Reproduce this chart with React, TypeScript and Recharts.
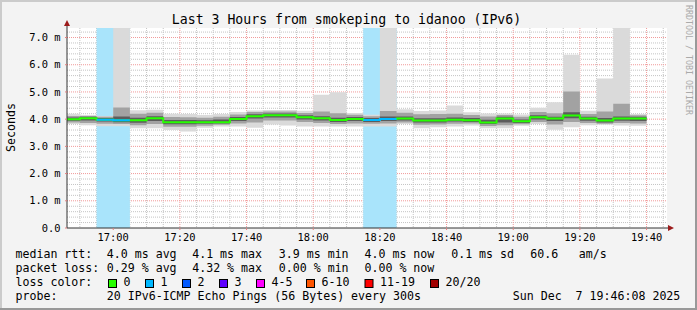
import React from 'react';
import { ComposedChart, Area, Line, XAxis, YAxis, CartesianGrid } from 'recharts';

// 5 minute bins, minutes after 16:00 (bin start)
const binStart = [
  45, 50, 55, 60, 65, 70, 75, 80, 85, 90, 95, 100, 105, 110, 115, 120, 125, 130,
  135, 140, 145, 150, 155, 160, 165, 170, 175, 180, 185, 190, 195, 200, 205, 210, 215,
];
const binEnd = 220;

// rtt in ms
const pingMin = [
  3.82, 3.78, 3.74, 3.74, 3.67, 3.67, 3.6, 3.55, 3.68, 3.73, 3.73, 3.68, 3.8, 3.77, 3.73, 3.73, 3.73, 3.73,
  3.73, 3.73, 3.82, 3.67, 3.7, 3.73, 3.77, 3.67, 3.67, 3.76, 3.82, 3.61, 3.7, 3.78, 3.79, 3.77, 3.76,
];
const pingLow = [
  3.88, 3.86, 3.83, 3.82, 3.78, 3.82, 3.72, 3.72, 3.76, 3.79, 3.84, 3.88, 3.95, 3.95, 3.9, 3.86, 3.82, 3.84,
  3.83, 3.84, 3.88, 3.79, 3.8, 3.83, 3.84, 3.75, 3.78, 3.81, 3.9, 3.8, 3.9, 3.86, 3.83, 3.86, 3.84,
];
const pingInLow = [
  3.94, 3.95, 3.91, 3.89, 3.87, 3.93, 3.81, 3.81, 3.83, 3.84, 3.93, 4.02, 4.06, 4.06, 3.99, 3.95, 3.9, 3.93,
  3.9, 3.93, 3.95, 3.88, 3.88, 3.91, 3.9, 3.82, 3.88, 3.86, 3.99, 3.93, 4.03, 3.94, 3.88, 3.94, 3.93,
];
const median = [
  4.0, 4.03, 3.98, 3.96, 3.96, 4.03, 3.89, 3.89, 3.89, 3.89, 4.01, 4.11, 4.14, 4.14, 4.07, 4.03, 3.97, 4.01,
  3.97, 4.01, 4.02, 3.95, 3.95, 3.98, 3.96, 3.88, 4.02, 3.92, 4.07, 4.02, 4.13, 4.02, 3.95, 4.02, 4.02,
];
const pingInHigh = [
  4.06, 4.09, 4.04, 4.1, 4.05, 4.11, 3.97, 3.97, 3.96, 3.99, 4.08, 4.18, 4.21, 4.21, 4.14, 4.11, 4.05, 4.08,
  4.04, 4.1, 4.1, 4.03, 4.03, 4.06, 4.04, 3.98, 4.09, 3.99, 4.14, 4.09, 4.25, 4.09, 4.04, 4.1, 4.09,
];
const pingHigh = [
  4.12, 4.12, 4.09, 4.43, 4.2, 4.24, 4.08, 4.07, 4.05, 4.09, 4.17, 4.26, 4.28, 4.28, 4.23, 4.28, 4.22, 4.16,
  4.11, 4.3, 4.24, 4.18, 4.19, 4.2, 4.15, 4.1, 4.15, 4.09, 4.26, 4.22, 5.02, 4.19, 4.28, 4.57, 4.14,
];
const pingMax = [
  4.2, 4.15, 4.12, 9.0, 4.33, 4.35, 4.2, 4.19, 4.15, 4.19, 4.26, 4.32, 4.34, 4.34, 4.31, 4.9, 4.99, 4.23,
  4.16, 9.0, 4.36, 4.3, 4.32, 4.5, 4.25, 4.21, 4.21, 4.17, 4.42, 4.62, 6.37, 4.31, 5.49, 9.0, 4.19,
];
const lossPings = [
  0, 0, 1, 1, 0, 0, 0, 0, 0, 0, 0, 0, 0, 0, 0, 0, 0, 0,
  1, 1, 0, 0, 0, 0, 0, 0, 0, 0, 0, 0, 0, 0, 0, 0, 0,
];

const timeTicks = [60, 80, 100, 120, 140, 160, 180, 200, 220];
const rttTicks = [0, 1, 2, 3, 4, 5, 6, 7];

const lossLabels = ['0', '1', '2', '3', '4-5', '6-10', '11-19', '20/20'];
const lossColors = ['#26ff00', '#00b8ff', '#0059ff', '#5e00ff', '#ff00ff', '#ff5500', '#ff0000', '#a10000'];
const lossBoxX = [108.5, 145.5, 182.5, 219.5, 256.5, 306.5, 365, 430.5];

const graphStart = 46 + 8 / 60;
const graphEnd = graphStart + 180;

const minorTime: number[] = [];
for (let m = 50; m <= 225; m += 5) if (m % 20 !== 0) minorTime.push(m);
const minorRtt: number[] = [];
for (let k = 1; k <= 36; k++) if (k % 5 !== 0) minorRtt.push(k / 5);
const majorRtt = [1, 2, 3, 4, 5, 6, 7];

const rows = binStart.map((t, i) => ({
  t,
  outer: [pingMin[i], pingMax[i]],
  mid: [pingLow[i], pingHigh[i]],
  inner: [pingInLow[i], pingInHigh[i]],
  median: median[i],
  lossMedian: lossPings[i] > 0 ? median[i] : i > 0 && lossPings[i - 1] > 0 ? median[i - 1] : null,
  loss: lossPings[i] > 0 ? 1 : 0,
}));
const last = rows[rows.length - 1];
const data = [...rows, { ...last, t: binEnd, lossMedian: last.loss ? last.median : null }];

const mono = "'DejaVu Sans Mono', monospace";

const fmtTime = (m: number) => `${16 + Math.floor(m / 60)}:${String(m % 60).padStart(2, '0')}`;
const fmtRtt = (v: number) => (v === 0 ? '0.0' : `${v.toFixed(1)} m`);

const T = (p: { x: number; y: number; children: React.ReactNode; size?: number }) => (
  <text x={p.x} y={p.y} fontFamily={mono} fontSize={p.size ?? 11.6} fill="#000" style={{ whiteSpace: 'pre' }}>
    {p.children}
  </text>
);

export default function App() {
  return (
    <div style={{ position: 'absolute', left: 0, top: 0, width: 697, height: 310, background: '#f3f3f3' }}>
      <ComposedChart width={697} height={310} data={data} margin={{ top: 28, right: 30, bottom: 52, left: 0 }}>
        <CartesianGrid
          fill="#ffffff"
          stroke="#c4c4c4"
          strokeDasharray="1 1"
          horizontalValues={minorRtt}
          verticalValues={minorTime}
        />
        <CartesianGrid
          stroke="#f19a9a"
          strokeDasharray="1 1"
          horizontalValues={majorRtt}
          verticalValues={timeTicks}
        />
        <XAxis
          dataKey="t"
          type="number"
          domain={[graphStart, graphEnd]}
          allowDataOverflow
          ticks={timeTicks}
          interval={0}
          tickFormatter={fmtTime}
          height={30}
          tickSize={2}
          tickMargin={3.6}
          axisLine={{ stroke: '#333' }}
          tickLine={{ stroke: '#e08080' }}
          tick={{ fill: '#000', fontSize: 10.4, fontFamily: mono }}
        />
        <YAxis
          width={67}
          type="number"
          domain={[0, 7.35]}
          allowDataOverflow
          ticks={rttTicks}
          interval={0}
          tickFormatter={fmtRtt}
          tickSize={2}
          tickMargin={4.5}
          axisLine={{ stroke: '#333' }}
          tickLine={{ stroke: '#e08080' }}
          tick={{ fill: '#000', fontSize: 10.4, fontFamily: mono }}
        />
        <YAxis yAxisId="loss" hide domain={[0, 1]} />
        <Area
          yAxisId="loss"
          dataKey="loss"
          type="stepAfter"
          fill="#a9e4fb"
          fillOpacity={1}
          stroke="none"
          isAnimationActive={false}
        />
        <Area dataKey="outer" type="stepAfter" fill="#dadada" fillOpacity={1} stroke="none" isAnimationActive={false} />
        <Area dataKey="mid" type="stepAfter" fill="#a2a2a2" fillOpacity={1} stroke="none" isAnimationActive={false} />
        <Area dataKey="inner" type="stepAfter" fill="#5c5c5c" fillOpacity={1} stroke="none" isAnimationActive={false} />
        <Line
          dataKey="median"
          type="stepAfter"
          stroke={lossColors[0]}
          strokeWidth={2}
          dot={false}
          activeDot={false}
          isAnimationActive={false}
        />
        <Line
          dataKey="lossMedian"
          type="stepAfter"
          stroke={lossColors[1]}
          strokeWidth={2}
          dot={false}
          activeDot={false}
          connectNulls={false}
          isAnimationActive={false}
        />
      </ComposedChart>

      <svg width={697} height={310} style={{ position: 'absolute', left: 0, top: 0, pointerEvents: 'none' }}>
        {/* frame */}
        <rect x={0} y={0} width={697} height={2} fill="#cbcbcb" />
        <rect x={0} y={0} width={2} height={310} fill="#cbcbcb" />
        <rect x={0} y={308} width={697} height={2} fill="#999999" />
        <rect x={695} y={0} width={2} height={310} fill="#999999" />

        {/* axis arrows */}
        <line x1={67} y1={28} x2={67} y2={24} stroke="#333" />
        <polygon points="67,20 64,26 70,26" fill="#9c1b1b" />
        <line x1={667} y1={228} x2={670} y2={228} stroke="#333" />
        <polygon points="674,228 668,225 668,231" fill="#9c1b1b" />

        <text x={346.5} y={24} textAnchor="middle" fontFamily={mono} fontSize={13.2} fill="#000">
          Last 3 Hours from smokeping to idanoo (IPv6)
        </text>
        <text
          transform="translate(11,127.5) rotate(-90)"
          textAnchor="middle"
          dominantBaseline="central"
          fontFamily={mono}
          fontSize={11.6}
          fill="#000"
        >
          Seconds
        </text>
        <text
          transform="translate(688.5,5) rotate(90)"
          dominantBaseline="central"
          fontFamily={mono}
          fontSize={8.3}
          fill="#aaaaaa"
        >
          RRDTOOL / TOBI OETIKER
        </text>

        <T x={15.5} y={258}>median rtt:</T>
        <T x={106.8} y={258}>4.0 ms avg</T>
        <T x={192.2} y={258}>4.1 ms max</T>
        <T x={278.8} y={258}>3.9 ms min</T>
        <T x={364.5} y={258}>4.0 ms now</T>
        <T x={451.2} y={258}>0.1 ms sd</T>
        <T x={530.2} y={258}>60.6</T>
        <T x={578.8} y={258}>am/s</T>

        <T x={15.5} y={272}>packet loss:</T>
        <T x={106.8} y={272}>0.29 % avg</T>
        <T x={192.2} y={272}>4.32 % max</T>
        <T x={278.8} y={272}>0.00 % min</T>
        <T x={364.5} y={272}>0.00 % now</T>

        <T x={15.5} y={286}>loss color:</T>
        {lossLabels.map((l, i) => (
          <g key={l}>
            <rect x={lossBoxX[i]} y={279.5} width={8} height={8} fill={lossColors[i]} stroke="#000" strokeWidth={1} />
            <T x={lossBoxX[i] + 15} y={286}>{l}</T>
          </g>
        ))}

        <T x={15.5} y={300}>probe:</T>
        <T x={106.8} y={300}>20 IPv6-ICMP Echo Pings (56 Bytes) every 300s</T>
        <T x={512.8} y={300}>Sun Dec  7 19:46:08 2025</T>
      </svg>
    </div>
  );
}
